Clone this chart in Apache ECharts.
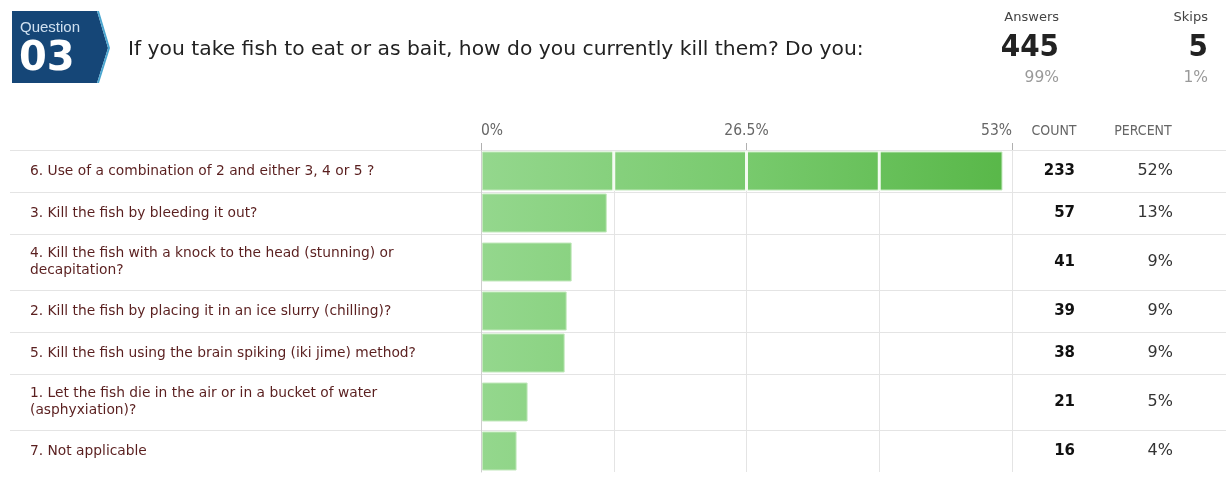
<!DOCTYPE html>
<html><head><meta charset="utf-8">
<script src="https://cdn.jsdelivr.net/npm/echarts@6/dist/echarts.min.js"></script>
<style>html,body{margin:0;padding:0;background:#fff}#c{width:1226px;height:490px}</style>
</head><body><div id="c"></div>
<script>
const questionNumber = '03';
const questionText = 'If you take fish to eat or as bait, how do you currently kill them? Do you:';
const answersCount = '445';
const answersPct = '99%';
const skipsCount = '5';
const skipsPct = '1%';
const categories = [
  '6. Use of a combination of 2 and either 3, 4 or 5 ?',
  '3. Kill the fish by bleeding it out?',
  '4. Kill the fish with a knock to the head (stunning) or\ndecapitation?',
  '2. Kill the fish by placing it in an ice slurry (chilling)?',
  '5. Kill the fish using the brain spiking (iki jime) method?',
  '1. Let the fish die in the air or in a bucket of water\n(asphyxiation)?',
  '7. Not applicable'
];
const barValues = [52.0, 12.5, 9.0, 8.5, 8.3, 4.6, 3.5];
const counts = [233, 57, 41, 39, 38, 21, 16];
const percents = ['52%', '13%', '9%', '9%', '9%', '5%', '4%'];
const axisMax = 53;
const gridInterval = 13.25;
const labelInterval = 26.5;
const tickLabels = ['0%', '26.5%', '53%'];
const columnHeaders = ['COUNT', 'PERCENT'];

const chart = echarts.init(document.getElementById('c'), null, {renderer: 'canvas'});
const LEFT = 481, WIDTH = 531, TOP0 = 150;
const narrow = '"DejaVu Sans Condensed","Liberation Sans Narrow",sans-serif';
const labelFont = '"DejaVu Sans",Verdana,sans-serif';

const grids = [], xAxes = [], yAxes = [], series = [], graphics = [];
let curTop = TOP0;
const bounds = [];
categories.forEach((c, i) => {
  const h = c.indexOf('\n') >= 0 ? 56 : 42;
  bounds.push(curTop);
  grids.push({left: LEFT, width: WIDTH, top: curTop, height: h});
  curTop += h;
  xAxes.push({
    type: 'value', gridIndex: i, min: 0, max: axisMax, interval: gridInterval, position: 'bottom',
    axisLabel: {show: false}, axisTick: {show: false}, axisLine: {show: false},
    splitLine: {show: true, lineStyle: {color: '#e4e4e4', width: 1}}
  });
  yAxes.push({
    type: 'category', gridIndex: i, data: [c], position: 'left',
    axisLine: {show: true, lineStyle: {color: '#cfcfcf'}}, axisTick: {show: false},
    axisLabel: {align: 'left', margin: LEFT - 30, color: '#5a1f1f', fontSize: 13.8,
      fontFamily: labelFont, lineHeight: 17}
  });
  yAxes.push({
    type: 'category', gridIndex: i, data: [String(i)], position: 'right',
    axisLine: {show: false}, axisTick: {show: false},
    axisLabel: {margin: 1, formatter: v => '{c|' + counts[+v] + '}{p|' + percents[+v] + '}',
      rich: {
        c: {width: 62, align: 'right', fontSize: 15, fontWeight: 'bold', color: '#111', fontFamily: labelFont},
        p: {width: 98, align: 'right', fontSize: 16, color: '#333', fontFamily: labelFont}
      }}
  });
  series.push({
    type: 'custom', xAxisIndex: i, yAxisIndex: 2 * i, data: [[barValues[i], 0]],
    renderItem: (params, api) => {
      const v = api.value(0);
      const s = api.coord([0, 0]);
      const e = api.coord([v, 0]);
      const bh = 38;
      const fill = new echarts.graphic.LinearGradient(LEFT, 0, LEFT + WIDTH, 0,
        [{offset: 0, color: '#94d78d'}, {offset: 0.5, color: '#78ca6d'}, {offset: 1, color: '#58b748'}], true);
      const children = [{
        type: 'rect', shape: {x: s[0] + 1.5, y: s[1] - bh / 2, width: e[0] - s[0] - 1.5, height: bh},
        style: {fill: fill, stroke: '#c2e8bc', lineWidth: 1}
      }];
      for (let t = gridInterval; t < v; t += gridInterval) {
        const p = api.coord([t, 0]);
        children.push({type: 'rect', shape: {x: p[0] - 1.5, y: s[1] - bh / 2 - 1, width: 3, height: bh + 2},
          style: {fill: '#f4fbf2'}});
      }
      return {type: 'group', children: children};
    }
  });
});

// top labeled axis
xAxes.push({
  type: 'value', gridIndex: 0, min: 0, max: axisMax, interval: labelInterval, position: 'top',
  axisLine: {show: false}, splitLine: {show: false},
  axisTick: {show: true, length: 7, lineStyle: {color: '#b0b0b0'}},
  axisLabel: {margin: 11, color: '#666', fontSize: 15.5, fontFamily: narrow,
    alignMinLabel: 'left', alignMaxLabel: 'right',
    formatter: v => tickLabels[Math.round(v / labelInterval)]}
});

// row separators
bounds.forEach(y => {
  graphics.push({type: 'line', shape: {x1: 10, y1: y + 0.5, x2: 1226, y2: y + 0.5},
    style: {stroke: '#e4e4e4', lineWidth: 1}, z: 0, silent: true});
});

// column headers
graphics.push({type: 'text', x: 1054, y: 131, style: {text: columnHeaders[0], fill: '#666', fontSize: 14, fontFamily: narrow, align: 'center', verticalAlign: 'middle'}});
graphics.push({type: 'text', x: 1143, y: 131, style: {text: columnHeaders[1], fill: '#666', fontSize: 14, fontFamily: narrow, align: 'center', verticalAlign: 'middle'}});

// badge
graphics.push({type: 'polygon', shape: {points: [[12, 11], [97, 11], [108, 48], [97, 83], [12, 83]]},
  style: {fill: '#154677'}});
graphics.push({type: 'polygon', shape: {points: [[97, 11], [108, 48], [97, 83], [99, 83], [110, 48], [99, 11]]},
  style: {fill: '#4aa6d0'}});
graphics.push({type: 'text', x: 20, y: 28, style: {text: 'Question', fill: '#cfe0f0', fontSize: 15, fontFamily: '"Liberation Sans",Arial,sans-serif', verticalAlign: 'middle'}});
graphics.push({type: 'text', x: 19, y: 60, style: {text: questionNumber, fill: '#ffffff', fontSize: 40, fontWeight: 'bold', fontFamily: '"DejaVu Sans",Verdana,sans-serif', verticalAlign: 'middle'}});
graphics.push({type: 'text', x: 128, y: 50, style: {text: questionText, fill: '#222', fontSize: 20.3, fontFamily: '"DejaVu Sans",Verdana,sans-serif', verticalAlign: 'middle'}});

// stats
const statFont = '"DejaVu Sans",Verdana,sans-serif';
const statBold = '"DejaVu Sans Condensed","DejaVu Sans",sans-serif';
graphics.push({type: 'text', x: 1059, y: 18, style: {text: 'Answers', fill: '#444', fontSize: 13, fontFamily: statFont, align: 'right', verticalAlign: 'middle'}});
graphics.push({type: 'text', x: 1059, y: 48, style: {text: answersCount, fill: '#222', fontSize: 31, fontWeight: 'bold', fontFamily: statBold, align: 'right', verticalAlign: 'middle'}});
graphics.push({type: 'text', x: 1059, y: 78, style: {text: answersPct, fill: '#999', fontSize: 15.5, fontFamily: statFont, align: 'right', verticalAlign: 'middle'}});
graphics.push({type: 'text', x: 1208, y: 18, style: {text: 'Skips', fill: '#444', fontSize: 13, fontFamily: statFont, align: 'right', verticalAlign: 'middle'}});
graphics.push({type: 'text', x: 1208, y: 48, style: {text: skipsCount, fill: '#222', fontSize: 31, fontWeight: 'bold', fontFamily: statBold, align: 'right', verticalAlign: 'middle'}});
graphics.push({type: 'text', x: 1208, y: 78, style: {text: skipsPct, fill: '#999', fontSize: 15.5, fontFamily: statFont, align: 'right', verticalAlign: 'middle'}});

chart.setOption({
  animation: false,
  backgroundColor: '#ffffff',
  grid: grids, xAxis: xAxes, yAxis: yAxes, series: series, graphic: graphics
});
</script></body></html>
